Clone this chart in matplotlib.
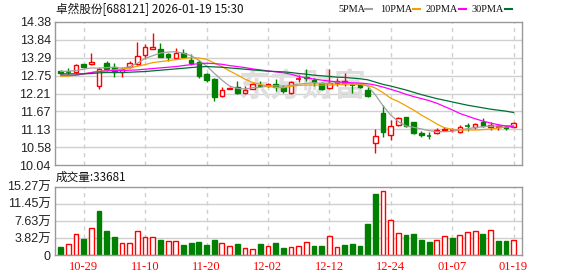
import numpy as np
import matplotlib
matplotlib.use("Agg")
from matplotlib import pyplot as plt
from matplotlib.patches import Rectangle
from matplotlib.lines import Line2D

##########################################################
# data
##########################################################
dates = ['10-24', '10-27', '10-28', '10-29', '10-30', '10-31', '11-03', '11-04', '11-05', '11-06',
         '11-07', '11-10', '11-11', '11-12', '11-13', '11-14', '11-17', '11-18', '11-19', '11-20',
         '11-21', '11-24', '11-25', '11-26', '11-27', '11-28', '12-01', '12-02', '12-03', '12-04',
         '12-05', '12-08', '12-09', '12-10', '12-11', '12-12', '12-15', '12-16', '12-17', '12-18',
         '12-19', '12-22', '12-23', '12-24', '12-25', '12-26', '12-29', '12-30', '12-31', '01-05',
         '01-06', '01-07', '01-08', '01-09', '01-12', '01-13', '01-14', '01-15', '01-16', '01-19']
date_ticks = ['10-29', '11-10', '11-20', '12-02', '12-12', '12-24', '01-07', '01-19']

opens = [12.90, 12.88, 12.87, 13.10, 13.10, 12.45, 13.13, 13.03, 12.88, 13.03,
         13.11, 13.37, 13.56, 13.55, 13.41, 13.28, 13.43, 13.24, 13.18, 12.81,
         12.66, 12.14, 12.36, 12.40, 12.23, 12.36, 12.46, 12.44, 12.50, 12.40,
         12.22, 12.64, 12.70, 12.62, 12.52, 12.37, 12.52, 12.52, 12.48, 12.47,
         12.32, 10.71, 11.63, 10.95, 11.25, 11.49, 11.34, 11.01, 10.95, 11.01,
         11.12, 11.10, 11.05, 11.24, 11.19, 11.36, 11.19, 11.19, 11.21, 11.21]
highs = [12.92, 12.98, 13.10, 13.12, 13.43, 13.03, 13.20, 13.13, 13.03, 13.20,
         13.78, 13.71, 14.06, 13.75, 13.43, 13.58, 13.55, 13.41, 13.23, 12.83,
         12.69, 12.40, 12.41, 12.59, 12.44, 12.52, 12.59, 12.54, 12.65, 12.47,
         12.58, 12.77, 12.96, 12.69, 12.57, 12.96, 12.69, 12.84, 12.52, 12.52,
         12.40, 11.15, 11.86, 11.41, 11.50, 11.50, 11.35, 11.07, 11.04, 11.16,
         11.20, 11.16, 11.26, 11.33, 11.31, 11.46, 11.36, 11.29, 11.26, 11.34]
lows = [12.80, 12.80, 12.85, 13.00, 13.07, 12.35, 12.90, 12.72, 12.72, 12.98,
        13.08, 13.25, 13.55, 13.33, 13.20, 13.26, 13.31, 13.07, 12.69, 12.57,
        12.00, 12.12, 12.34, 12.21, 12.21, 12.34, 12.42, 12.40, 12.30, 12.22,
        12.20, 12.57, 12.58, 12.44, 12.32, 12.34, 12.44, 12.44, 12.24, 12.37,
        12.12, 10.42, 10.91, 10.81, 11.23, 11.20, 10.98, 10.89, 10.84, 10.98,
        11.08, 11.06, 11.03, 11.09, 11.15, 11.19, 11.12, 11.11, 11.11, 11.19]
closes = [12.83, 12.87, 13.08, 13.03, 13.17, 12.95, 12.96, 12.88, 12.95, 13.15,
          13.35, 13.61, 13.61, 13.33, 13.33, 13.45, 13.33, 13.15, 12.74, 12.62,
          12.10, 12.32, 12.38, 12.24, 12.32, 12.50, 12.45, 12.50, 12.40, 12.29,
          12.55, 12.66, 12.67, 12.57, 12.34, 12.54, 12.59, 12.58, 12.46, 12.40,
          12.14, 10.93, 11.06, 11.23, 11.46, 11.23, 11.03, 10.95, 10.94, 11.10,
          11.14, 11.12, 11.21, 11.22, 11.28, 11.24, 11.26, 11.22, 11.18, 11.33]

ma5 = [12.88, 12.89, 12.91, 12.95, 12.99, 12.98, 13.00, 13.01, 12.98, 13.03,
       13.13, 13.28, 13.36, 13.44, 13.47, 13.48, 13.43, 13.36, 13.22, 13.05,
       12.83, 12.62, 12.44, 12.37, 12.35, 12.39, 12.40, 12.44, 12.45, 12.44,
       12.46, 12.50, 12.52, 12.54, 12.52, 12.52, 12.54, 12.54, 12.50, 12.49,
       12.44, 12.17, 11.84, 11.56, 11.36, 11.23, 11.19, 11.14, 11.09, 11.06,
       11.06, 11.07, 11.11, 11.15, 11.18, 11.21, 11.23, 11.23, 11.24, 11.24]
ma10 = [12.74, 12.74, 12.77, 12.81, 12.85, 12.89, 12.91, 12.93, 12.95, 12.99,
        13.04, 13.09, 13.15, 13.18, 13.21, 13.24, 13.27, 13.30, 13.29, 13.25,
        13.14, 13.03, 12.90, 12.78, 12.65, 12.55, 12.49, 12.43, 12.40, 12.39,
        12.43, 12.46, 12.47, 12.47, 12.47, 12.47, 12.48, 12.50, 12.50, 12.50,
        12.46, 12.38, 12.24, 12.07, 11.97, 11.84, 11.71, 11.56, 11.43, 11.29,
        11.18, 11.13, 11.11, 11.11, 11.11, 11.12, 11.14, 11.17, 11.20, 11.21]
ma20 = [12.77, 12.77, 12.77, 12.81, 12.85, 12.88, 12.90, 12.91, 12.91, 12.92,
        12.93, 12.95, 12.97, 12.99, 13.01, 13.03, 13.06, 13.09, 13.12, 13.13,
        13.12, 13.10, 13.06, 13.03, 13.00, 12.96, 12.93, 12.90, 12.87, 12.84,
        12.80, 12.73, 12.69, 12.65, 12.62, 12.59, 12.57, 12.55, 12.54, 12.53,
        12.51, 12.47, 12.41, 12.34, 12.27, 12.19, 12.12, 12.06, 12.00, 11.92,
        11.82, 11.72, 11.61, 11.53, 11.45, 11.38, 11.32, 11.27, 11.23, 11.21]
ma30 = [12.81, 12.81, 12.81, 12.81, 12.82, 12.84, 12.85, 12.85, 12.85, 12.86,
        12.87, 12.88, 12.90, 12.92, 12.94, 12.96, 12.98, 13.00, 13.02, 13.03,
        13.02, 13.01, 12.99, 12.97, 12.95, 12.93, 12.91, 12.89, 12.88, 12.87,
        12.85, 12.82, 12.80, 12.77, 12.75, 12.73, 12.71, 12.70, 12.68, 12.66,
        12.63, 12.56, 12.49, 12.44, 12.38, 12.32, 12.25, 12.18, 12.12, 12.06,
        12.01, 11.96, 11.91, 11.86, 11.82, 11.78, 11.74, 11.71, 11.68, 11.64]

# volume in 万 shares, vol_up = 1 for red bars
volume = [1.93, 2.52, 4.75, 3.64, 6.08, 9.94, 5.49, 4.08, 2.67, 2.67,
          5.42, 4.08, 4.08, 3.49, 3.26, 3.26, 2.37, 2.75, 3.04, 2.37,
          3.49, 2.82, 2.08, 2.52, 1.63, 1.41, 2.52, 2.08, 2.82, 1.71,
          1.85, 2.08, 2.89, 2.08, 2.08, 4.23, 1.78, 2.30, 2.52, 2.08,
          6.97, 13.65, 14.25, 7.79, 4.90, 4.53, 4.75, 3.41, 2.97, 3.41,
          4.23, 3.86, 4.45, 5.19, 5.42, 4.75, 5.64, 3.19, 3.19, 3.37]
vol_up = [0, 1, 1, 0, 1, 0, 0, 0, 1, 1, 1, 1, 1, 0, 1, 1, 0, 0, 0, 0,
          0, 1, 1, 0, 1, 1, 0, 1, 0, 0, 1, 1, 1, 0, 0, 1, 1, 0, 0, 0,
          0, 0, 1, 1, 1, 0, 0, 0, 0, 1, 1, 0, 1, 1, 1, 0, 1, 0, 0, 1]

price_ticks = [10.04, 10.58, 11.13, 11.67, 12.21, 12.75, 13.29, 13.84, 14.38]
vol_ticks = [0, 3.82, 7.63, 11.45, 15.27]
vol_labels = ['0', '3.82万', '7.63万', '11.45万', '15.27万']

title = '卓然股份[688121] 2026-01-19 15:30'
vol_title = '成交量:33681'
ma_names = ['5PMA', '10PMA', '20PMA', '30PMA']

##########################################################
# styling
##########################################################
RED = '#ff0000'
GREEN = '#008000'
GRID = '#d0d0d0'
FRAME = '#999999'
MA_COLORS = ['#a0a0a0', '#f0a000', '#ff00ff', '#006f35']
TICK_FONT = ['Liberation Sans', 'Noto Sans CJK SC']
CJK_FONT = ['Noto Sans CJK SC', 'DejaVu Sans']

W, H = 578, 276

def fx(px):
    return px / W

def fy(py):
    return 1 - py / H

fig = plt.figure(figsize=(W / 100, H / 100), dpi=100)
fig.patch.set_facecolor('white')

ax = fig.add_axes([fx(55), fy(165.3), (522 - 55) / W, 143.3 / H])
vax = fig.add_axes([fx(55), fy(255.3), (522 - 55) / W, 68.6 / H])

n = len(closes)
x = np.arange(n)
tick_pos = [dates.index(d) for d in date_ticks]

for a in (ax, vax):
    a.set_xlim(-0.74, n + 0.1)
    for s in a.spines.values():
        s.set_color(FRAME)
        s.set_linewidth(1.0)
    a.tick_params(length=0, labelsize=9, colors='#222222', pad=3)
    for p in tick_pos:
        a.axvline(p, color=GRID, lw=1.0, ls=(0, (3, 3)), zorder=0)

# price panel
ax.set_ylim(price_ticks[0], price_ticks[-1])
ax.set_yticks(price_ticks)
ax.set_yticklabels(['%.2f' % v for v in price_ticks], family=TICK_FONT)
for v in price_ticks[1:-1]:
    ax.axhline(v, color=GRID, lw=1.0, zorder=0)
ax.set_xticks([])

# watermark
ax.text(0.529, 0.54, '东方财富', transform=ax.transAxes, ha='center', va='center',
        fontsize=23, fontweight='bold', color='#dedede', family=CJK_FONT, zorder=0.5)

bw = 0.6
for i in x:
    o, h, l, c = opens[i], highs[i], lows[i], closes[i]
    top, bot = max(o, c), min(o, c)
    if c >= o:
        col = RED
        ax.vlines(i, top, h, color=col, lw=1.0, zorder=2)
        ax.vlines(i, l, bot, color=col, lw=1.0, zorder=2)
        if top - bot < 0.02:
            ax.hlines(c, i - bw / 2, i + bw / 2, color=col, lw=1.2, zorder=2)
        else:
            ax.add_patch(Rectangle((i - bw / 2, bot), bw, top - bot, facecolor='white',
                                   edgecolor=col, lw=1.0, zorder=2))
    else:
        col = GREEN
        ax.vlines(i, l, h, color=col, lw=1.0, zorder=2)
        if top - bot < 0.02:
            ax.hlines(c, i - bw / 2, i + bw / 2, color=col, lw=1.2, zorder=2)
        else:
            ax.add_patch(Rectangle((i - bw / 2, bot), bw, top - bot, facecolor=col,
                                   edgecolor=col, lw=1.0, zorder=2))

for ma, col in zip([ma5, ma10, ma20, ma30], MA_COLORS):
    ax.plot(x, ma, color=col, lw=0.9, zorder=3)

# volume panel
vax.set_ylim(vol_ticks[0], vol_ticks[-1])
vax.set_yticks(vol_ticks)
vax.set_yticklabels(vol_labels, family=TICK_FONT)
for v in vol_ticks[1:-1]:
    vax.axhline(v, color=GRID, lw=1.0, zorder=0)
vax.set_xticks(tick_pos)
vax.set_xticklabels(date_ticks, color=RED, family='Liberation Serif', fontsize=9)
vax.tick_params(axis='x', pad=4, colors=RED)

vw = 0.62
for i in x:
    if vol_up[i]:
        vax.bar(i, volume[i], width=vw, facecolor='white', edgecolor=RED, lw=1.0, zorder=2)
    else:
        vax.bar(i, volume[i], width=vw, facecolor=GREEN, edgecolor=GREEN, lw=1.0, zorder=2)

# header texts
fig.text(fx(56), fy(9), title, ha='left', va='center', fontsize=8.4, family=CJK_FONT, color='#111111')
fig.text(fx(56), fy(177.5), vol_title, ha='left', va='center', fontsize=8.4, family=CJK_FONT, color='#111111')

# legend: label start and dash start in pixels
legend_x = [338, 380, 426, 472]
dash_x = [365, 413, 459, 505]
for name, col, lx, dx in zip(ma_names, MA_COLORS, legend_x, dash_x):
    fig.text(fx(lx), fy(9), name, ha='left', va='center', fontsize=7.4,
             family='Liberation Serif', color='#111111')
    fig.add_artist(Line2D([fx(dx), fx(dx + 7)], [fy(9), fy(9)], color=col, lw=1.5))

fig.savefig('out.png', dpi=100, facecolor='white')
